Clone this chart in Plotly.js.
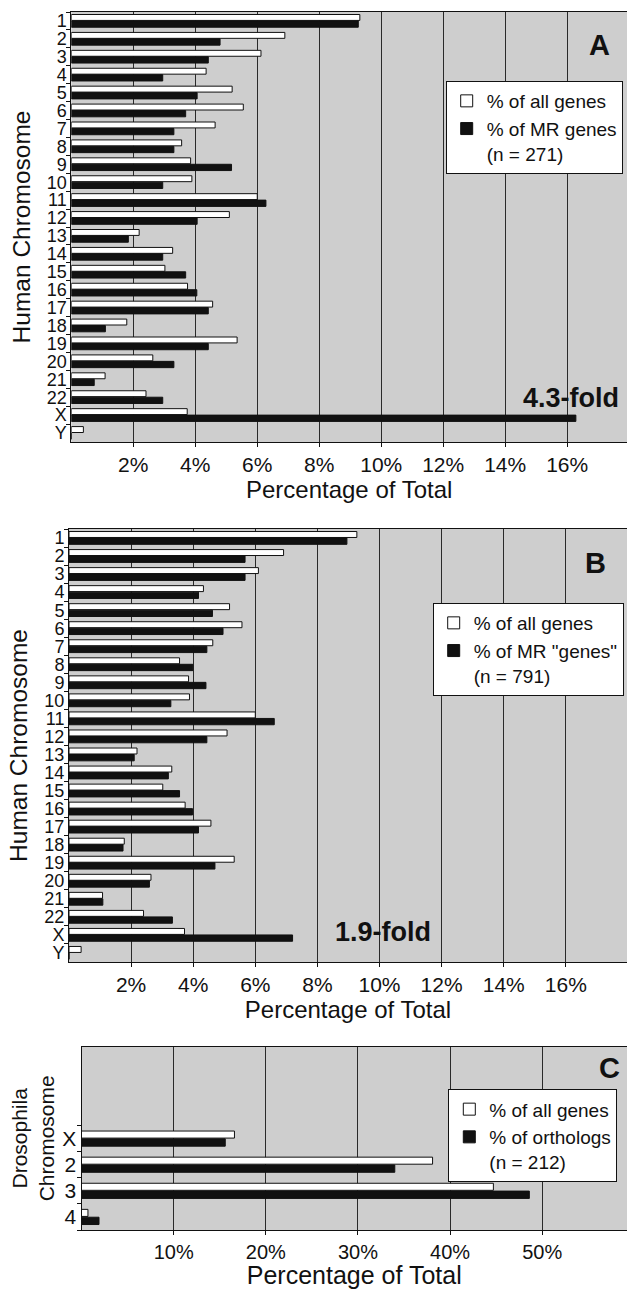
<!DOCTYPE html>
<html>
<head>
<meta charset="utf-8">
<script src="https://cdn.plot.ly/plotly-3.0.1.min.js"></script>
<style>
html,body{margin:0;padding:0;background:#fff;}
#chart{width:627px;height:1289px;}
</style>
</head>
<body>
<div id="chart"></div>
<script>
// ---------- data ----------
const humanChromosomes = ['1','2','3','4','5','6','7','8','9','10','11','12','13','14','15','16','17','18','19','20','21','22','X','Y'];
// Panel A
const allGenesA = [9.31,6.89,6.12,4.35,5.19,5.55,4.64,3.56,3.85,3.89,6.00,5.10,2.19,3.27,3.02,3.75,4.56,1.79,5.35,2.63,1.09,2.41,3.74,0.39];
const mrGenesA  = [9.26,4.80,4.42,2.95,4.06,3.69,3.31,3.31,5.17,2.95,6.28,4.06,1.84,2.95,3.69,4.05,4.42,1.10,4.42,3.31,0.74,2.95,16.28,0];
// Panel B
const allGenesB = [9.27,6.91,6.10,4.33,5.17,5.57,4.63,3.56,3.85,3.88,6.00,5.09,2.19,3.31,3.02,3.74,4.57,1.78,5.32,2.64,1.08,2.40,3.72,0.39];
const mrGenesB  = [8.95,5.67,5.67,4.17,4.62,4.96,4.44,3.99,4.41,3.28,6.61,4.44,2.10,3.20,3.56,3.98,4.17,1.74,4.70,2.59,1.09,3.33,7.20,0];
// Panel C
const flyChromosomes = ['X','2','3','4'];
const allGenesC  = [16.6,38.1,44.7,0.7];
const orthologsC = [15.6,34.0,48.6,1.9];
// tick labels
const humanTickVals = [2,4,6,8,10,12,14,16];
const humanTickText = ['2%','4%','6%','8%','10%','12%','14%','16%'];
const flyTickVals = [10,20,30,40,50];
const flyTickText = ['10%','20%','30%','40%','50%'];
// legend names
const namesA = ['% of all genes','% of MR genes<br>(n = 271)'];
const namesB = ['% of all genes','% of MR "genes"<br>(n = 791)'];
const namesC = ['% of all genes','% of orthologs<br>(n = 212)'];

// ---------- helpers ----------
const W = 627, H = 1289;
const FONT = 'Liberation Sans, Arial, Helvetica, sans-serif';
const INK = '#111111';
const px = v => v / W;
const py = v => 1 - v / H;

function pair(cats, white, black, names, xa, ya, lg, wOff, wW, bOff, bW) {
  return [
    {type:'bar', orientation:'h', y:cats, x:white, xaxis:xa, yaxis:ya, name:names[0], legend:lg,
     offset:wOff, width:wW, marker:{color:'#ffffff', line:{color:INK, width:1}}, hoverinfo:'skip'},
    {type:'bar', orientation:'h', y:cats, x:black, xaxis:xa, yaxis:ya, name:names[1], legend:lg,
     offset:bOff, width:bW, marker:{color:INK, line:{color:INK, width:1}}, hoverinfo:'skip'}
  ];
}

const traces = [].concat(
  pair(humanChromosomes, allGenesA, mrGenesA, namesA, 'x', 'y', 'legend', -0.36, 0.33, 0.0, 0.35),
  pair(humanChromosomes, allGenesB, mrGenesB, namesB, 'x2', 'y2', 'legend2', -0.36, 0.33, 0.0, 0.35),
  pair(flyChromosomes, allGenesC, orthologsC, namesC, 'x3', 'y3', 'legend3', -0.29, 0.27, 0.01, 0.28)
);

function xAxis(domLeft, range, vals, text, anchor, tickSize, titleSize, standoff) {
  return {
    domain:[px(domLeft), 1], range:range, anchor:anchor,
    tickmode:'array', tickvals:vals, ticktext:text,
    showgrid:true, gridcolor:'#2a2a2a', gridwidth:1, zeroline:false,
    showline:true, mirror:true, linecolor:INK, linewidth:1,
    ticks:'outside', ticklen:4, tickcolor:INK,
    tickfont:{family:FONT, size:tickSize, color:INK},
    title:{text:'Percentage of Total', standoff:standoff, font:{family:FONT, size:titleSize, color:INK}},
    fixedrange:true
  };
}
function yAxis(top, bottom, cats, range, anchor, title, tickSize, titleSize, standoff) {
  return {
    domain:[py(bottom), py(top)], type:'category', categoryorder:'array', categoryarray:cats,
    tickmode:'array', tickvals:cats, ticktext:cats,
    range:range, anchor:anchor, tickson:'boundaries', ticks:'outside', ticklen:4, tickcolor:INK,
    showline:true, linecolor:INK, linewidth:1, showgrid:false, zeroline:false,
    tickfont:{family:FONT, size:tickSize, color:INK},
    title:{text:title, standoff:standoff, font:{family:FONT, size:titleSize, color:INK}},
    fixedrange:true
  };
}
function legendBox(right, top) {
  return {x:px(right), y:py(top), xanchor:'right', yanchor:'top', bgcolor:'#ffffff',
          bordercolor:INK, borderwidth:1, font:{family:FONT, size:19, color:INK},
          valign:'top', traceorder:'normal', itemclick:false, itemdoubleclick:false};
}
function label(text, x, y, size) {
  return {xref:'paper', yref:'paper', x:px(x), y:py(y), xanchor:'center', yanchor:'middle',
          text:'<b>'+text+'</b>', showarrow:false, font:{family:FONT, size:size, color:INK}};
}

const layout = {
  width:W, height:H, margin:{l:0, r:0, t:0, b:0},
  paper_bgcolor:'#ffffff', plot_bgcolor:'#cecece',
  barmode:'overlay', showlegend:true,
  font:{family:FONT, color:INK},
  xaxis:  xAxis(71.3, [0, 17.93], humanTickVals, humanTickText, 'y', 21, 24, 0),
  yaxis:  yAxis(12, 442, humanChromosomes, [23.5, -0.5], 'x', 'Human Chromosome', 18, 24.5, 9),
  xaxis2: xAxis(69, [0, 17.97], humanTickVals, humanTickText, 'y2', 21, 24, 0),
  yaxis2: yAxis(529, 962, humanChromosomes, [23.5, -0.5], 'x2', 'Human Chromosome', 18, 24.5, 9),
  xaxis3: xAxis(81.5, [0, 59.2], flyTickVals, flyTickText, 'y3', 20, 25, 7),
  yaxis3: yAxis(1046.7, 1230, flyChromosomes, [3.5, -3.52], 'x3', 'Drosophila<br>Chromosome', 21, 21, 1),
  legend:  legendBox(622.7, 81),
  legend2: legendBox(623.7, 603),
  legend3: legendBox(617.3, 1089.3),
  annotations:[
    label('A', 599, 45, 29),
    label('B', 595, 563, 29),
    label('C', 609, 1068, 29),
    label('4.3-fold', 571, 398, 27),
    label('1.9-fold', 383, 932, 27)
  ]
};

Plotly.newPlot('chart', traces, layout, {staticPlot:true, displayModeBar:false});
</script>
</body>
</html>
